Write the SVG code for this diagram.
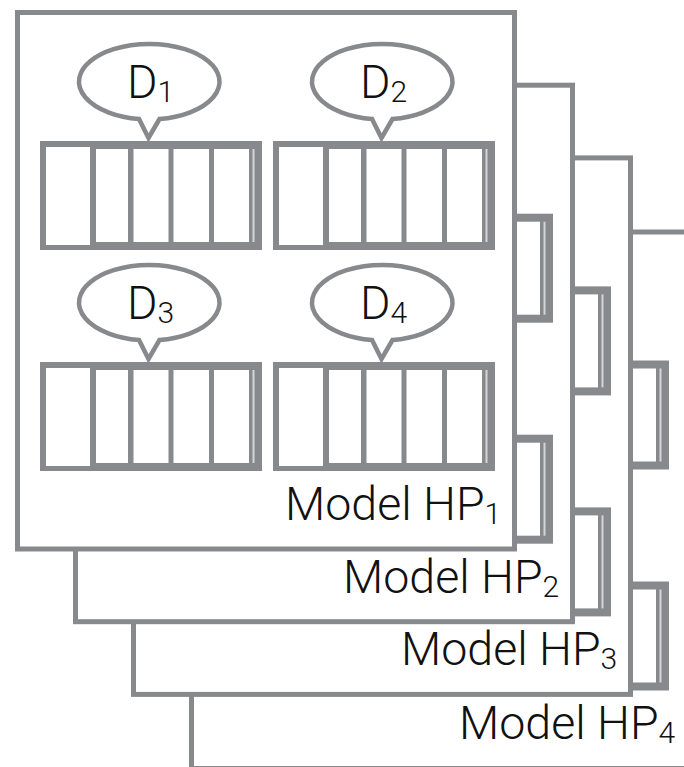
<svg xmlns="http://www.w3.org/2000/svg" width="684" height="767" viewBox="0 0 684 767">
  <style>
    .frame { fill: #ffffff; stroke: #87898d; stroke-width: 5; }
    .bubble { fill: #ffffff; stroke: #87898d; stroke-width: 4.5; stroke-linejoin: miter; }
    .grey { fill: #87898d; }
    .cell { fill: #ffffff; }
    .gap { fill: #d3d5d7; }
    .label { font-family: "Helvetica Neue", "Roboto", "Liberation Sans", sans-serif; font-weight: 300; fill: #111111; }
    .name { font-size: 46.5px; }
    .sub { font-size: 30px; }
  </style>
  <defs>
    <!-- five-slot array, origin at its top-left corner -->
    <g id="cell-array">
      <rect class="grey" x="0" y="0" width="222" height="109"/>
      <rect class="cell" x="6" y="6" width="44" height="98"/>
      <rect class="cell" x="56" y="8" width="32" height="93"/>
      <rect class="cell" x="93.5" y="8" width="35" height="93"/>
      <rect class="cell" x="133.5" y="8" width="35.5" height="93"/>
      <rect class="cell" x="174" y="8" width="35" height="93"/>
      <rect class="gap" x="212.5" y="8" width="2" height="93"/>
    </g>
    <!-- speech bubble whose tail points down onto the array below it -->
    <path id="callout" class="bubble" d="M99,-22 A70.25,37.75 0 1 1 119.5,-22 L108.5,-3 Z"/>
  </defs>

  <rect x="0" y="0" width="684" height="767" fill="#ffffff"/>

  <!-- back to front: each later model sheet covers the earlier one -->
  <g id="model-hp4" transform="translate(174 219.5)">
    <rect class="frame" x="17.5" y="12.5" width="497" height="536.5"/>
    <use href="#cell-array" x="273" y="141"/>
    <use href="#cell-array" x="273" y="362"/>
    <text class="label name" x="285" y="519">Model HP<tspan class="sub" dy="4">4</tspan></text>
  </g>

  <g id="model-hp3" transform="translate(116 145.4)">
    <rect class="frame" x="17.5" y="12.5" width="497" height="536.5"/>
    <use href="#cell-array" x="273" y="141"/>
    <use href="#cell-array" x="273" y="362"/>
    <text class="label name" x="285" y="520">Model HP<tspan class="sub" dy="4">3</tspan></text>
  </g>

  <g id="model-hp2" transform="translate(58 72.7)">
    <rect class="frame" x="17.5" y="12.5" width="497" height="536.5"/>
    <use href="#cell-array" x="273" y="141"/>
    <use href="#cell-array" x="273" y="362"/>
    <text class="label name" x="285" y="520">Model HP<tspan class="sub" dy="4">2</tspan></text>
  </g>

  <g id="model-hp1">
    <rect class="frame" x="17.5" y="12.5" width="497" height="536.5"/>

    <g id="data-d1">
      <use href="#cell-array" x="40" y="141"/>
      <use href="#callout" x="40" y="141"/>
      <text class="label name" x="127" y="98">D<tspan class="sub" dy="3.5">1</tspan></text>
    </g>
    <g id="data-d2">
      <use href="#cell-array" x="273" y="141"/>
      <use href="#callout" x="273" y="141"/>
      <text class="label name" x="360" y="98">D<tspan class="sub" dy="3.5">2</tspan></text>
    </g>
    <g id="data-d3">
      <use href="#cell-array" x="40" y="362"/>
      <use href="#callout" x="40" y="362"/>
      <text class="label name" x="127" y="319">D<tspan class="sub" dy="3.5">3</tspan></text>
    </g>
    <g id="data-d4">
      <use href="#cell-array" x="273" y="362"/>
      <use href="#callout" x="273" y="362"/>
      <text class="label name" x="360" y="319">D<tspan class="sub" dy="3.5">4</tspan></text>
    </g>

    <text class="label name" x="285" y="520">Model HP<tspan class="sub" dy="4">1</tspan></text>
  </g>
</svg>
